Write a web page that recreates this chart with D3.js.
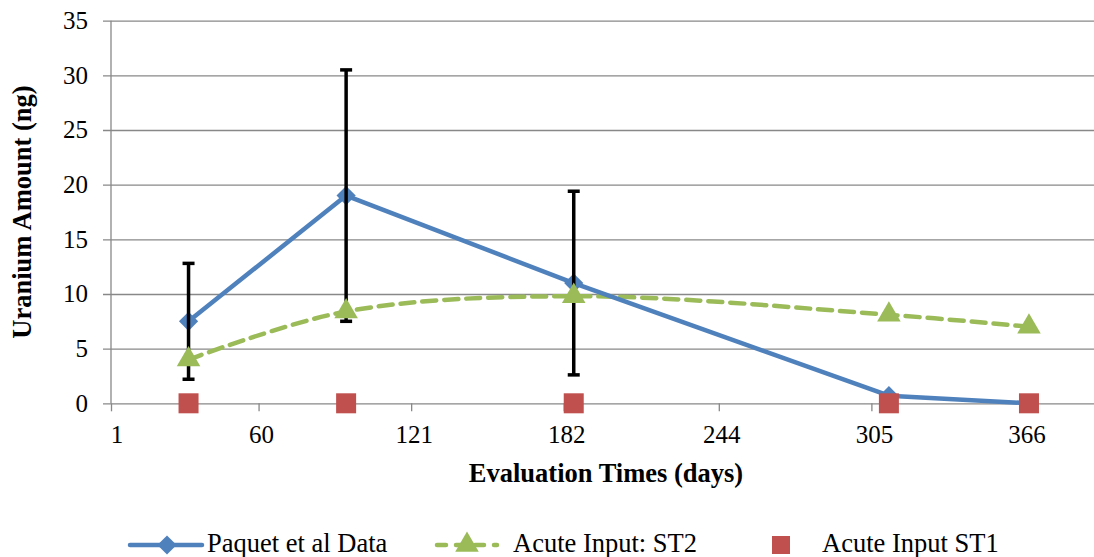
<!DOCTYPE html>
<html>
<head>
<meta charset="utf-8">
<script src="https://cdn.jsdelivr.net/npm/d3@7"></script>
<style>
  body { margin: 0; background: #fff; }
</style>
</head>
<body>
<div id="chart"></div>
<script>
// Data
const days = [32, 95, 186, 312, 368];
const paquet = [7.5, 19, 11, 0.7, 0];
const paquetErr = [5.3, 11.5, 8.4, null, null];
const st2 = [4, 8.4, 9.8, 8.1, 7.0];
const st1 = [0, 0, 0, 0, 0];
const xTicks = [1, 60, 121, 182, 244, 305, 366];
const yTicks = [0, 5, 10, 15, 20, 25, 30, 35];

// Colors
const blue = "#4f81bd";
const green = "#9bbb59";
const red = "#c0504d";
const gridColor = "#888888";
const serif = "'Liberation Serif', 'Times New Roman', serif";

const width = 1094, height = 557;
const plot = { left: 111, right: 1094, top: 20.7, bottom: 403.3 };

const svg = d3.select("#chart").append("svg")
  .attr("width", width)
  .attr("height", height)
  .attr("font-family", serif);

const x = d3.scaleLinear().domain([1, 394]).range([plot.left, plot.right]);
const y = d3.scaleLinear().domain([0, 35]).range([plot.bottom, plot.top]);

function label(sel, size, bold) {
  return sel.attr("font-family", serif)
    .attr("font-size", size)
    .attr("font-weight", bold ? "bold" : "normal")
    .attr("fill", "#000");
}

// Horizontal grid + y axis ticks
svg.append("g")
  .attr("transform", `translate(${plot.left},0)`)
  .call(d3.axisLeft(y).tickValues(yTicks).tickSize(-(plot.right - plot.left)).tickFormat(""))
  .call(g => g.select(".domain").remove())
  .call(g => g.selectAll(".tick line").attr("stroke", gridColor).attr("stroke-width", 1.3).attr("x1", -8));

// y axis line
svg.append("line")
  .attr("x1", plot.left).attr("x2", plot.left)
  .attr("y1", plot.top).attr("y2", plot.bottom)
  .attr("stroke", gridColor).attr("stroke-width", 1.3);

// y tick labels
svg.append("g").selectAll("text")
  .data(yTicks).enter().append("text")
  .attr("x", 88)
  .attr("y", d => y(d))
  .attr("dy", "0.33em")
  .attr("text-anchor", "end")
  .call(label, 25)
  .text(d => d);

// x axis ticks
svg.append("g")
  .attr("transform", `translate(0,${plot.bottom})`)
  .call(d3.axisBottom(x).tickValues(xTicks).tickSize(8).tickFormat(""))
  .call(g => g.select(".domain").remove())
  .call(g => g.selectAll(".tick line").attr("stroke", gridColor).attr("stroke-width", 1.3));

svg.append("g").selectAll("text")
  .data(xTicks).enter().append("text")
  .attr("x", d => x(d) + (d === 1 ? 6 : 3))
  .attr("y", 443)
  .attr("text-anchor", "middle")
  .call(label, 25)
  .text(d => d);

// Axis titles
svg.append("text")
  .attr("transform", `translate(31,212) rotate(-90)`)
  .attr("text-anchor", "middle")
  .call(label, 26.5, true)
  .text("Uranium Amount (ng)");

svg.append("text")
  .attr("x", 606)
  .attr("y", 482)
  .attr("text-anchor", "middle")
  .call(label, 26.5, true)
  .text("Evaluation Times (days)");

// ST2 smoothed dashed line
const st2Data = days.map((d, i) => ({ x: d, y: st2[i] }));
svg.append("path")
  .datum(st2Data)
  .attr("fill", "none")
  .attr("stroke", green)
  .attr("stroke-width", 4.5)
  .attr("stroke-dasharray", "14,8")
  .attr("stroke-linecap", "round")
  .attr("d", d3.line().x(d => x(d.x)).y(d => y(d.y)).curve(d3.curveCatmullRom.alpha(0.5)));

// Paquet line
const paqData = days.map((d, i) => ({ x: d, y: paquet[i], e: paquetErr[i] }));
svg.append("path")
  .datum(paqData)
  .attr("fill", "none")
  .attr("stroke", blue)
  .attr("stroke-width", 4.5)
  .attr("stroke-linejoin", "round")
  .attr("d", d3.line().x(d => x(d.x)).y(d => y(d.y)));

// Diamonds (rotated squares)
const diamond = d3.symbol().type(d3.symbolSquare).size(185);
svg.append("g").selectAll("path")
  .data(paqData).enter().append("path")
  .attr("transform", d => `translate(${x(d.x)},${y(d.y)}) rotate(45)`)
  .attr("d", diamond)
  .attr("fill", blue);

// Error bars
const errs = svg.append("g").selectAll("g")
  .data(paqData.filter(d => d.e != null)).enter().append("g")
  .attr("stroke", "#000")
  .attr("stroke-width", 3.5);
errs.append("line")
  .attr("x1", d => x(d.x)).attr("x2", d => x(d.x))
  .attr("y1", d => y(d.y + d.e)).attr("y2", d => y(d.y - d.e));
errs.append("line")
  .attr("x1", d => x(d.x) - 6).attr("x2", d => x(d.x) + 6)
  .attr("y1", d => y(d.y + d.e)).attr("y2", d => y(d.y + d.e));
errs.append("line")
  .attr("x1", d => x(d.x) - 6).attr("x2", d => x(d.x) + 6)
  .attr("y1", d => y(d.y - d.e)).attr("y2", d => y(d.y - d.e));

// Triangles
const triangle = d3.symbol().type(d3.symbolTriangle).size(240);
svg.append("g").selectAll("path")
  .data(st2Data).enter().append("path")
  .attr("transform", d => `translate(${x(d.x)},${y(d.y)})`)
  .attr("d", triangle)
  .attr("fill", green);

// ST1 squares
svg.append("g").selectAll("rect")
  .data(days.map((d, i) => ({ x: d, y: st1[i] }))).enter().append("rect")
  .attr("x", d => x(d.x) - 10)
  .attr("y", d => y(d.y) - 10)
  .attr("width", 20)
  .attr("height", 20)
  .attr("fill", red);

// Legend
const ly = 545;
const legend = svg.append("g");
legend.append("line")
  .attr("x1", 130).attr("x2", 202).attr("y1", ly).attr("y2", ly)
  .attr("stroke", blue).attr("stroke-width", 4.5).attr("stroke-linecap", "round");
legend.append("path")
  .attr("transform", `translate(167,${ly}) rotate(45)`)
  .attr("d", diamond).attr("fill", blue);
legend.append("text")
  .attr("x", 207).attr("y", 552)
  .call(label, 26.5).text("Paquet et al Data");

legend.append("line")
  .attr("x1", 437).attr("x2", 497).attr("y1", ly).attr("y2", ly)
  .attr("stroke", green).attr("stroke-width", 4.5)
  .attr("stroke-dasharray", "9,10").attr("stroke-linecap", "round");
legend.append("path")
  .attr("transform", `translate(467,${ly})`)
  .attr("d", triangle).attr("fill", green);
legend.append("text")
  .attr("x", 513).attr("y", 552)
  .call(label, 26.5).text("Acute Input: ST2");

legend.append("rect")
  .attr("x", 772).attr("y", ly - 9).attr("width", 18).attr("height", 18)
  .attr("fill", red);
legend.append("text")
  .attr("x", 822).attr("y", 552)
  .call(label, 26.5).text("Acute Input ST1");
</script>
</body>
</html>
